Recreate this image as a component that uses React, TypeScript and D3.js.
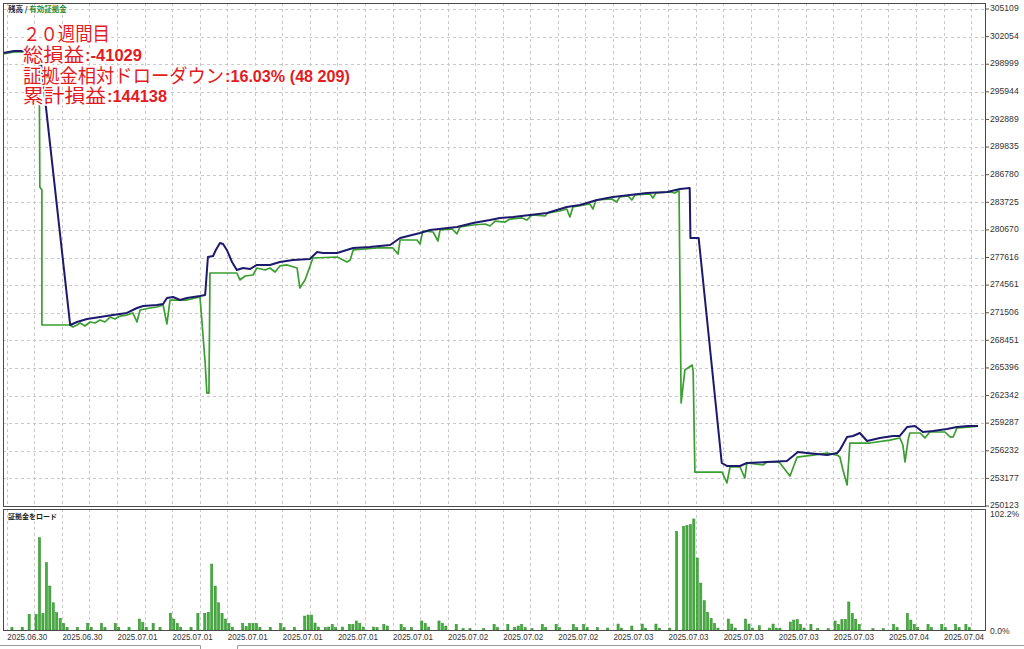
import React from "react";
import * as d3 from "d3";

// balance curve: [deal no, balance]
const balance: [number, number][] = [
    [-1.6, 300240], [1.6, 300460], [3.3, 300460], [9.1, 300350], [17.9, 270150], [19.9, 270480],
    [22.8, 270810], [26.6, 271030], [30.3, 271250], [34.4, 271480], [37.3, 272030], [39.1, 272250],
    [43.1, 272360], [44.9, 272470], [46.0, 273130], [47.8, 273250], [49.8, 272910], [51.8, 273130],
    [55.6, 273360], [57.1, 273470], [57.9, 277670], [59.4, 277780], [60.2, 278450], [61.4, 279220],
    [62.3, 279110], [63.4, 278450], [64.9, 277120], [66.3, 276230], [68.1, 276450], [70.1, 276340],
    [72.1, 276790], [75.9, 276790], [78.8, 277120], [82.6, 277340], [87.5, 277450], [89.6, 278220],
    [91.3, 278110], [95.4, 278110], [100.1, 278670], [104.9, 278780], [110.8, 279000], [113.7, 279770],
    [119.5, 280330], [122.4, 280660], [130.2, 280990], [134.9, 281430], [139.8, 281760], [142.7, 281990],
    [146.5, 282100], [151.4, 282320], [156.4, 282540], [162.1, 283200], [165.9, 283420], [170.9, 283980],
    [175.5, 284310], [180.4, 284530], [185.4, 284750], [191.2, 284860], [195.0, 285190], [197.8, 285300],
    [198.0, 279770], [200.4, 279770], [207.1, 254880], [208.6, 254550], [212.4, 254550], [214.4, 254880],
    [226.0, 255100], [227.8, 255650], [229.2, 256100], [231.8, 255990], [237.7, 255760], [240.6, 255990],
    [241.4, 256320], [243.5, 257760], [245.2, 257870], [247.2, 258200], [249.3, 257310], [253.0, 257650],
    [256.8, 257870], [258.8, 257870], [260.9, 258860], [263.2, 258970], [265.5, 258310], [268.4, 258420],
    [272.5, 258640], [275.4, 258860], [278.6, 258970], [281.5, 258970]
];

// equity curve: [deal no, equity]
const equity: [number, number][] = [
    [-1.6, 300130], [1.6, 300350], [3.3, 300350], [8.9, 300350], [9.1, 285420], [9.7, 285080],
    [9.7, 270150], [17.9, 270150], [18.7, 269930], [19.9, 270150], [20.8, 270370], [22.2, 270040],
    [23.7, 270480], [25.1, 270370], [26.6, 270700], [28.0, 270480], [29.5, 271030], [30.9, 270810],
    [32.4, 271140], [34.4, 271250], [36.1, 271480], [37.3, 270480], [38.2, 271810], [41.1, 272030],
    [43.1, 272140], [44.9, 272360], [46.0, 270260], [46.9, 272910], [51.8, 272910], [55.6, 273250],
    [56.2, 270370], [57.1, 265940], [57.6, 262620], [58.2, 262620], [58.5, 275900], [66.3, 275900],
    [67.2, 275130], [68.7, 275570], [71.0, 275680], [72.1, 276450], [74.5, 276230], [75.9, 276450],
    [77.4, 276010], [78.8, 276680], [80.9, 276790], [83.8, 276450], [84.6, 274240], [86.1, 275130],
    [88.4, 277560], [95.4, 277670], [98.3, 277120], [99.2, 277340], [100.1, 278450], [107.0, 278670],
    [111.6, 278670], [113.1, 278000], [113.7, 279550], [118.6, 279550], [119.5, 279110], [120.3, 280550],
    [123.3, 280440], [124.7, 279440], [125.3, 280660], [128.8, 280770], [130.2, 280220], [131.1, 280990],
    [134.9, 281210], [138.4, 281320], [139.8, 281100], [141.3, 281650], [144.2, 281540], [145.6, 281870],
    [149.1, 281990], [150.5, 281760], [152.0, 282320], [155.8, 282210], [156.6, 282540], [160.1, 282760],
    [162.1, 282980], [163.0, 282100], [163.9, 283200], [168.8, 283540], [169.7, 282980], [170.6, 283980],
    [175.2, 284090], [176.6, 283760], [177.5, 284310], [179.9, 284420], [181.0, 283980], [181.9, 284530],
    [186.3, 284640], [187.1, 284200], [188.0, 284750], [192.1, 284860], [193.5, 284750], [194.4, 284970],
    [194.7, 284970], [195.3, 261520], [196.4, 265170], [198.5, 265720], [198.8, 264950], [199.3, 253880],
    [207.2, 253880], [208.6, 252670], [209.5, 254440], [212.4, 254440], [213.8, 253220], [214.4, 254880],
    [219.1, 254660], [220.2, 254990], [223.1, 254990], [224.0, 254880], [226.0, 253880], [226.9, 253440],
    [229.0, 255540], [233.6, 255760], [237.7, 255990], [240.6, 255760], [241.4, 255540], [242.3, 254100],
    [243.5, 252450], [244.3, 257090], [250.1, 257090], [255.9, 257420], [258.8, 257650], [259.7, 256870],
    [260.3, 254990], [261.2, 257420], [261.7, 258200], [264.7, 258200], [266.1, 257650], [267.5, 258310],
    [271.9, 258310], [273.4, 257760], [274.3, 257760], [275.4, 258750], [278.6, 258860], [281.5, 258970]
];

// margin load %: [deal no, load]
const marginLoad: [number, number][] = [
    [1, 2.4], [4, 2.4], [6, 13.7], [8, 13.7], [9, 80.6], [10, 14.6], [11, 58.8], [12, 38.4], [13, 23.8],
    [14, 15.1], [15, 10.2], [16, 5.8], [17, 2.4], [20, 2.4], [23, 5.8], [24, 2.4], [27, 5.8], [28, 2.4],
    [31, 5.8], [32, 2.4], [35, 2.4], [38, 9.6], [39, 6.4], [40, 2.4], [42, 5.8], [44, 2.4], [47, 14.6],
    [48, 9.6], [49, 5.8], [50, 2.4], [53, 2.4], [55, 14.6], [57, 14.6], [58, 15.5], [59, 57.6], [60, 38.4],
    [61, 23.8], [62, 14.6], [63, 9.6], [64, 5.8], [65, 2.4], [68, 5.8], [69, 3.2], [70, 5.8], [71, 5.8],
    [72, 5.8], [73, 2.4], [76, 2.4], [79, 5.8], [80, 2.4], [83, 2.4], [86, 12.2], [87, 13.1], [88, 13.1],
    [89, 6.1], [90, 2.6], [92, 2.2], [93, 2.6], [94, 5], [95, 2.2], [97, 2.6], [99, 5], [100, 5], [101, 7.9],
    [102, 5.8], [103, 2.6], [106, 2.6], [107, 2.2], [109, 5], [110, 3.5], [114, 5], [115, 2.2], [117, 2.2],
    [120, 7.9], [121, 5.8], [122, 2.6], [125, 7.9], [126, 5.8], [127, 3.5], [130, 5], [132, 1.2], [134, 1.2],
    [138, 1.2], [141, 5], [142, 2.2], [145, 5], [147, 2.2], [148, 3.5], [149, 5], [150, 2.2], [152, 1.2],
    [155, 5], [156, 2.2], [159, 5], [160, 2.2], [164, 5], [165, 2.2], [167, 5], [168, 2.2], [171, 2.2],
    [174, 1.7], [177, 5.2], [178, 1.7], [181, 3.5], [184, 5.2], [185, 1.7], [188, 5.2], [189, 1.7], [192, 1.7],
    [194, 86.2], [196, 90.6], [197, 91.4], [198, 92], [199, 97], [200, 62.9], [201, 41], [202, 25.6],
    [203, 15.5], [204, 10.2], [205, 5.8], [206, 1.7], [209, 9.6], [210, 5.2], [211, 1.7], [214, 9.6],
    [215, 5.2], [216, 1.7], [218, 3.8], [221, 1.7], [222, 5.2], [223, 1.7], [224, 1.7], [227, 7], [228, 8.7],
    [229, 9.3], [230, 5], [231, 1.7], [233, 5], [235, 1.2], [238, 1.2], [240, 7.9], [241, 5], [242, 9.3],
    [243, 9.3], [244, 24.5], [245, 14.6], [246, 9.3], [247, 5], [251, 1.2], [254, 1.2], [257, 5], [258, 2.2],
    [261, 14.6], [262, 8.7], [263, 5], [264, 2.2], [267, 5], [268, 2.2], [271, 5], [272, 2.2], [275, 5],
    [276, 2.2], [278, 5], [279, 2.2]
];

const priceTicks = [
    305109, 302054, 298999, 295944, 292889, 289835, 286780, 283725, 280670, 277616,
    274561, 271506, 268451, 265396, 262342, 259287, 256232, 253177, 250123
];

const dateLabels = [
    "2025.06.30", "2025.06.30", "2025.07.01", "2025.07.01", "2025.07.01", "2025.07.01",
    "2025.07.01", "2025.07.01", "2025.07.02", "2025.07.02", "2025.07.02", "2025.07.03",
    "2025.07.03", "2025.07.03", "2025.07.03", "2025.07.03", "2025.07.04", "2025.07.04"
];

const loadTop = 102.2;

const W = 1024;
const H = 649;
const main = { left: 3, right: 985, top: 3, bottom: 506 };
const sub = { top: 509, bottom: 630 };

const RED = "#e31b23";
const NAVY = "#1c1a6c";
const GREEN = "#3a9e30";
const GRID = "#c9c9c9";
const AXIS_FONT = "'Liberation Sans', Arial, sans-serif";
const JP_FONT = "'Noto Sans CJK JP', sans-serif";
const NUM_FONT = "'Liberation Sans Narrow', 'Liberation Sans', Arial, sans-serif";

export default function App() {
    const x = d3.scaleLinear().domain([0, 280]).range([8.5, 8.5 + 280 * 3.444]);
    const y = d3.scaleLinear().domain([250123, 305109]).range([506, 9]);
    const yLoad = d3.scaleLinear().domain([0, loadTop]).range([sub.bottom, 513]);

    const line = d3.line<[number, number]>()
        .x(d => x(d[0]))
        .y(d => y(d[1]));

    // a vertical grid line every 8 deals
    const gridDeals = d3.range(0, 36).map(i => i * 8 - 0.5);

    const halo = { stroke: "#fff", strokeWidth: 3, paintOrder: "stroke" as const, strokeLinejoin: "round" as const };

    const redLines = [
        { jp: "２０週間目", jpLen: 87, num: "", numLen: 0, base: 41 },
        { jp: "総損益", jpLen: 61, num: ":-41029", numLen: 57, base: 62 },
        { jp: "証拠金相対ドローダウン", jpLen: 201, num: ":16.03% (48 209)", numLen: 125, base: 83 },
        { jp: "累計損益", jpLen: 83, num: ":144138", numLen: 60, base: 103 }
    ];

    return (
        <svg
            width={W}
            height={H}
            style={{ position: "absolute", left: 0, top: 0, background: "#fff" }}
        >
            <rect x={0} y={0} width={W} height={H} fill="#fff" />
            <defs>
                <clipPath id="mainClip">
                    <rect x={main.left} y={main.top} width={main.right - main.left} height={main.bottom - main.top} />
                </clipPath>
            </defs>

            {/* grid */}
            <g stroke={GRID} strokeWidth={1} strokeDasharray="3,3">
                {priceTicks.map(t => (
                    <line key={"h" + t} x1={main.left} x2={main.right} y1={Math.round(y(t)) + 0.5} y2={Math.round(y(t)) + 0.5} />
                ))}
                {gridDeals.map(k => (
                    <g key={"v" + k}>
                        <line x1={Math.round(x(k)) + 0.5} x2={Math.round(x(k)) + 0.5} y1={main.top} y2={main.bottom} />
                        <line x1={Math.round(x(k)) + 0.5} x2={Math.round(x(k)) + 0.5} y1={sub.top} y2={sub.bottom} />
                    </g>
                ))}
            </g>

            {/* balance / equity */}
            <g clipPath="url(#mainClip)" fill="none" strokeLinejoin="round">
                <path d={line(equity) || ""} stroke={GREEN} strokeWidth={1.7} />
                <path d={line(balance) || ""} stroke={NAVY} strokeWidth={2} />
            </g>

            {/* margin load bars */}
            <g fill="#45ad3e" stroke="#2f8a2b" strokeWidth={0.5}>
                {marginLoad.map(([k, v]) => (
                    <rect key={"b" + k} x={x(k) - 1.1} width={2.2} y={yLoad(v)} height={sub.bottom - yLoad(v)} />
                ))}
            </g>

            {/* panel frames */}
            <g fill="none" stroke="#4a4a4a" strokeWidth={1}>
                <rect x={main.left + 0.5} y={main.top + 0.5} width={main.right - main.left} height={main.bottom - main.top} />
                <rect x={main.left + 0.5} y={sub.top + 0.5} width={main.right - main.left} height={sub.bottom - sub.top} />
            </g>

            {/* right axis */}
            <g fontFamily={AXIS_FONT} fontSize={8.6} fill="#333">
                {priceTicks.map(t => (
                    <g key={"t" + t}>
                        <line x1={main.right + 1} x2={main.right + 4} y1={y(t)} y2={y(t)} stroke="#555" />
                        <text x={main.right + 5} y={y(t)} dominantBaseline="middle">{t}</text>
                    </g>
                ))}
                <text x={main.right + 5} y={515} dominantBaseline="middle">{loadTop.toFixed(1)}%</text>
                <text x={main.right + 5} y={632} dominantBaseline="middle">0.0%</text>
            </g>

            {/* date axis */}
            <g fontFamily={AXIS_FONT} fontSize={8.4} fill="#333">
                {dateLabels.map((d, i) => (
                    <text key={"d" + i} x={x(gridDeals[i * 2]) + 0.5} y={638} dominantBaseline="middle" textLength={40} lengthAdjust="spacingAndGlyphs">{d}</text>
                ))}
            </g>

            {/* panel captions */}
            <text x={8} y={12} fontFamily={JP_FONT} fontSize={7.5} fontWeight="bold">
                <tspan fill="#1d1d3a">残高 / </tspan>
                <tspan fill="#2e8b2e">有効証拠金</tspan>
            </text>
            <text x={8} y={519} fontFamily={JP_FONT} fontSize={7} fontWeight="bold" fill="#222">証拠金をロード</text>

            {/* red info block */}
            <g fill={RED}>
                {redLines.map((r, i) => (
                    <g key={"r" + i}>
                        <text x={23} y={r.base} fontFamily={JP_FONT} fontSize={19} textLength={r.jpLen} lengthAdjust="spacingAndGlyphs" style={halo}>{r.jp}</text>
                        {r.num && (
                            <text x={23 + r.jpLen + 1} y={r.base - 1} fontFamily={NUM_FONT} fontWeight="bold" fontSize={17} textLength={r.numLen} lengthAdjust="spacingAndGlyphs" style={halo}>{r.num}</text>
                        )}
                    </g>
                ))}
            </g>

            {/* bottom tab edge */}
            <g stroke="#9a9a9a" strokeWidth={1} fill="none">
                <polyline points="0,645.5 200.5,645.5 200.5,649" />
                <polyline points="237.5,649 237.5,645.5 1024,645.5" />
            </g>
        </svg>
    );
}
